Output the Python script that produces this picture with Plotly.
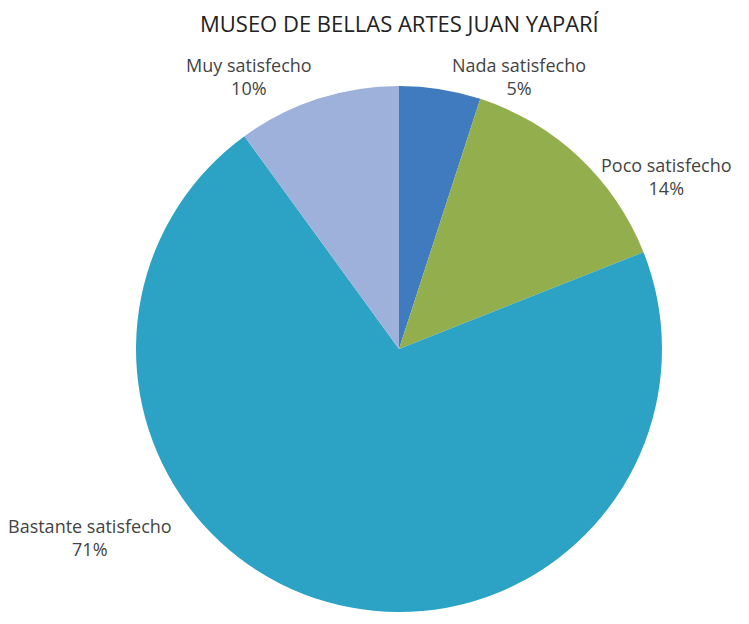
import plotly.graph_objects as go

title = "MUSEO DE BELLAS ARTES JUAN YAPARÍ"
categories = ["Nada satisfecho", "Poco satisfecho", "Bastante satisfecho", "Muy satisfecho"]
percentages = [5, 14, 71, 10]
colors = ["#3F7BBE", "#93AE4C", "#2CA3C4", "#9DB1DA"]

W, H = 749, 624
cx, cy, r = 399, 349, 263

# label centres in pixels (x, y from top), in category order
label_px = [(519, 76), (666, 176), (90, 537), (249, 76)]

fig = go.Figure(go.Pie(
    labels=categories,
    values=percentages,
    sort=False,
    direction="clockwise",
    rotation=0,
    marker=dict(colors=colors, line=dict(width=0)),
    textinfo="none",
    hoverinfo="label+percent",
    showlegend=False,
    domain=dict(x=[(cx - r) / W, (cx + r) / W], y=[(H - cy - r) / H, (H - cy + r) / H]),
))

for cat, pct, (px, py) in zip(categories, percentages, label_px):
    fig.add_annotation(
        x=px / W, y=1 - py / H, xref="paper", yref="paper",
        xanchor="center", yanchor="middle",
        text=f"{cat}<br>{pct}%",
        showarrow=False, align="center",
        font=dict(family="Open Sans", size=18, color="#444444"),
    )

fig.add_annotation(
    x=400 / W, y=1 - 23 / H, xref="paper", yref="paper",
    xanchor="center", yanchor="middle",
    text=title, showarrow=False,
    font=dict(family="Open Sans", size=22, color="#222222"),
)

fig.update_layout(
    width=W, height=H,
    margin=dict(l=0, r=0, t=0, b=0),
    paper_bgcolor="white", plot_bgcolor="white",
)

fig.write_html("out.html")
